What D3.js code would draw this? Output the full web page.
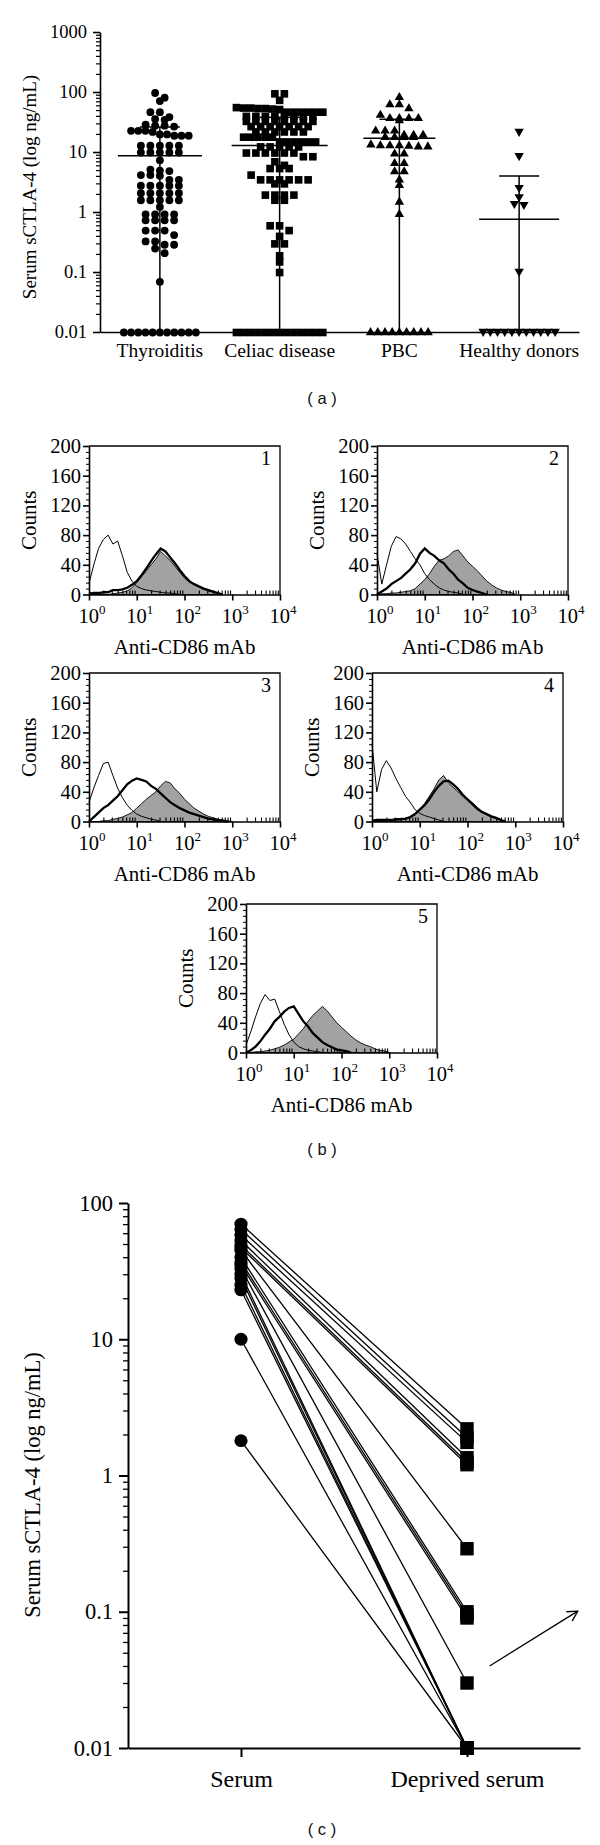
<!DOCTYPE html>
<html><head><meta charset="utf-8">
<script src="https://cdn.jsdelivr.net/npm/d3@7"></script>
<style>body{margin:0;background:#fff}svg{display:block}</style>
</head><body>
<svg id="chart" width="600" height="1845"></svg>
<script>
// ===== Panel (a) data =====
const groupNames = ["Thyroiditis", "Celiac disease", "PBC", "Healthy donors"];
const thyroiditisValues = [98, 82, 72, 47, 47, 39, 35, 36, 29, 28, 28, 27, 23, 23, 22, 23,
  20, 19, 19, 20, 19, 13, 13, 13, 13, 13, 10, 10, 10, 10, 10, 7.4, 5.0, 5.2, 4.9, 4.2, 4.2, 4.1,
  3.5, 3.5, 2.8, 2.8, 2.8, 2.8, 2.8, 2.1, 2.1, 2.1, 2.1, 2.1, 1.6, 1.6, 1.6, 1.6, 1.6, 1.24,
  0.93, 0.93, 0.93, 0.93, 0.74, 0.74, 0.74, 0.74, 0.5, 0.5, 0.5, 0.42, 0.33, 0.33, 0.29, 0.29,
  0.25, 0.21, 0.07, 0.01, 0.01, 0.01, 0.01, 0.01, 0.01, 0.01, 0.01, 0.01, 0.01, 0.01];
const celiacValues = [95, 95, 74, 56, 55, 54, 53, 55, 54, 52, 47, 47, 47, 47, 47, 47,
  40, 40, 40, 40, 40, 40, 40, 40, 33, 33, 33, 33, 33, 33, 33, 33, 27, 27, 27, 27, 27, 27, 27,
  22, 22, 22, 22, 22, 22, 18, 18, 18, 18, 18, 15, 15, 15, 15, 15, 15, 12.4, 12.4, 12.4, 12.4, 12.4,
  9.8, 9.8, 9.8, 9.8, 9.8, 9.8, 8.5, 8.5, 7, 6.1, 5.4, 5.4, 5.4, 4.2, 3.5, 3.5, 3.5, 3.5, 3.5, 3.5,
  3.0, 3.0, 1.95, 1.95, 1.95, 1.95, 1.6, 1.6, 0.6, 0.6, 0.5, 0.4, 0.3, 0.3, 0.19, 0.15, 0.1,
  0.01, 0.01, 0.01, 0.01, 0.01, 0.01, 0.01, 0.01, 0.01, 0.01, 0.01, 0.01, 0.01];
const pbcValues = [83, 63, 63, 54, 42, 37, 37, 37, 37, 34, 23, 23, 23, 19.5, 19.5, 19.5,
  18, 18, 18, 18, 13, 12.5, 13, 13.5, 12.5, 13, 12.8, 9.5, 9.5, 6.6, 6.6, 4.8, 4.8, 3.5, 2.85,
  1.5, 0.93, 0.01, 0.01, 0.01, 0.01, 0.01, 0.01, 0.01, 0.01, 0.01];
const healthyValues = [21.5, 8.5, 2.5, 1.75, 1.3, 1.35, 0.1,
  0.01, 0.01, 0.01, 0.01, 0.01, 0.01, 0.01, 0.01, 0.01, 0.01, 0.01];
const groupMeans = [8.7, 12.8, 17, 0.76];
const groupSDUpper = [26, 38, 35, 4.0];
const panelATicks = [0.01, 0.1, 1, 10, 100, 1000];
const panelATickLabels = ["0.01", "0.1", "1", "10", "100", "1000"];

// ===== Panel (b) data: flow-cytometry histograms (counts on a log10 grid) =====
const logGrid = [0, 0.1, 0.2, 0.3, 0.4, 0.5, 0.6, 0.7, 0.8, 0.9, 1, 1.1, 1.2, 1.3, 1.4, 1.5,
  1.6, 1.7, 1.8, 1.9, 2, 2.1, 2.2, 2.3, 2.4, 2.5, 2.6, 2.7, 2.8, 2.9, 3];
const control1 = [15,40,62,74,80,68,72,52,30,18,11,8,6,5,4,3,2,2,1,0,0,0,0,0,0,0,0,0,0,0,0];
const thick1   = [1,2,2,3,3,6,6,7,9,13,18,26,35,45,54,62,58,50,42,33,25,18,14,11,8,6,4,2,0,0,0];
const filled1  = [0,0,0,0,0,1,2,3,5,9,16,24,32,40,48,58,52,46,38,30,22,17,13,11,7,5,3,1,0,0,0];
const control2 = [55,14,40,65,78,75,68,58,48,40,28,20,14,9,6,4,3,2,0,0,0,0,0,0,0,0,0,0,0,0,0];
const thick2   = [0,4,8,14,18,22,28,34,42,55,62,56,52,46,42,34,28,20,15,9,6,4,2,0,0,0,0,0,0,0,0];
const filled2  = [0,1,1,2,2,3,4,5,8,14,20,28,38,46,48,52,58,60,52,44,38,32,25,18,13,9,6,4,3,0,0];
const control3 = [26,45,62,78,80,62,45,32,22,15,10,7,5,3,2,0,0,0,0,0,0,0,0,0,0,0,0,0,0,0,0];
const thick3   = [0,6,12,18,22,28,34,42,50,55,58,56,54,48,44,38,32,26,22,18,15,12,10,8,6,4,3,2,1,0,0];
const filled3  = [0,0,0,1,1,3,4,6,9,12,18,24,30,35,40,48,54,52,44,38,30,24,18,14,10,7,5,3,2,1,0];
const control4 = [105,40,70,82,72,58,46,34,26,16,11,8,6,4,2,0,0,0,0,0,0,0,0,0,0,0,0,0,0,0,0];
const thick4   = [1,2,2,2,2,3,3,4,6,10,16,22,30,40,48,54,55,50,44,36,30,24,18,13,10,7,5,2,0,0,0];
const filled4  = [0,1,1,1,2,2,3,3,5,9,16,24,34,44,56,62,52,46,40,34,28,22,16,12,9,6,4,2,0,0,0];
const control5 = [10,28,48,66,78,70,72,55,38,24,14,8,5,3,2,1,0,0,0,0,0,0,0,0,0,0,0,0,0,0,0];
const thick5   = [0,3,8,15,24,32,42,48,55,60,62,52,42,35,26,20,14,10,7,4,3,2,0,0,0,0,0,0,0,0,0];
const filled5  = [0,0,1,1,2,3,5,7,10,14,18,25,32,42,50,56,62,56,48,40,34,28,22,17,13,10,8,5,3,2,0];
const histLabels = ["1", "2", "3", "4", "5"];
const countTicks = [0, 40, 80, 120, 160, 200];
const fluorTicks = [1, 10, 100, 1000, 10000];
const fluorTickExps = ["0", "1", "2", "3", "4"];

// ===== Panel (c) data =====
const pairedCategories = ["Serum", "Deprived serum"];
const serumValues    = [70, 64, 58, 53, 49, 47, 45, 40, 37, 35, 33, 30, 28, 25, 23, 10, 1.8];
const deprivedValues = [2.2, 1.9, 1.75, 1.35, 1.25, 1.2, 0.29, 0.1, 0.095, 0.09, 0.03,
  0.01, 0.01, 0.01, 0.01, 0.01, 0.01];
const panelCTicks = [0.01, 0.1, 1, 10, 100];
const panelCTickLabels = ["0.01", "0.1", "1", "10", "100"];

// ===== Drawing =====
const svg = d3.select("#chart");
const serif = "'Liberation Serif','Times New Roman',serif";
const sans = "'Liberation Sans',Arial,sans-serif";

function styleAxis(g, fs, sw) {
  g.attr("font-family", serif).attr("font-size", fs);
  g.selectAll("text").attr("fill", "#000");
  g.selectAll("line,path").attr("stroke", "#000").attr("stroke-width", sw);
}
function isMajor(t, majors) { return majors.some(m => Math.abs(m - t) / m < 1e-9); }

// ---------- Panel (a) ----------
const aX = d3.scaleBand().domain(groupNames).range([100, 579]);
const aY = d3.scaleLog().domain([0.01, 1000]).range([332, 32]);
const gA = svg.append("g");
const aMinor = aY.ticks().filter(t => !isMajor(t, panelATicks));
gA.append("g").attr("transform", "translate(100,0)")
  .call(d3.axisLeft(aY).tickValues(aMinor).tickSize(4).tickSizeOuter(0).tickFormat(""))
  .call(g => { g.select(".domain").remove(); styleAxis(g, 18.5, 1.2); });
gA.append("g").attr("transform", "translate(100,0)")
  .call(d3.axisLeft(aY).tickValues(panelATicks).tickSize(7).tickSizeOuter(0).tickPadding(6)
    .tickFormat((d, i) => panelATickLabels[i]))
  .call(g => styleAxis(g, 18.5, 1.6));
gA.append("g").attr("transform", "translate(0,332)")
  .call(d3.axisBottom(aX).tickSize(0).tickSizeOuter(0))
  .call(g => { styleAxis(g, 19.5, 1.6); g.selectAll("text").attr("y", 25).attr("dy", 0); });
gA.append("text").attr("transform", "translate(29,187) rotate(-90)")
  .attr("text-anchor", "middle").attr("dy", "0.35em")
  .attr("font-family", serif).attr("font-size", 19).text("Serum sCTLA-4 (log ng/mL)");

function swarm(values, cx, yScale) {
  const sorted = values.slice().sort((a, b) => b - a);
  const rows = [];
  sorted.forEach(v => {
    const y = yScale(v);
    const last = rows[rows.length - 1];
    if (last && y - last.y0 < 5) last.items.push({ v, y });
    else rows.push({ y0: y, items: [{ v, y }] });
  });
  const out = [];
  rows.forEach(r => {
    const n = r.items.length, s = n > 8 ? 7.2 : 9.5;
    r.items.forEach((it, i) => out.push({ v: it.v, x: cx + (i - (n - 1) / 2) * s, y: it.y }));
  });
  return out;
}
const groupValues = [thyroiditisValues, celiacValues, pbcValues, healthyValues];
const groupSymbols = [
  { type: d3.symbolCircle, size: 48, rot: 0 },
  { type: d3.symbolSquare, size: 58, rot: 0 },
  { type: d3.symbolTriangle, size: 38, rot: 0 },
  { type: d3.symbolTriangle, size: 38, rot: 180 }];
const meanHalf = [42, 48, 36, 40];
groupNames.forEach((name, gi) => {
  const cx = aX(name) + aX.bandwidth() / 2;
  gA.append("line").attr("x1", cx).attr("x2", cx).attr("y1", aY(groupSDUpper[gi])).attr("y2", aY(0.01))
    .attr("stroke", "#000").attr("stroke-width", 1.5);
  gA.append("line").attr("x1", cx - 20).attr("x2", cx + 20).attr("y1", aY(groupSDUpper[gi])).attr("y2", aY(groupSDUpper[gi]))
    .attr("stroke", "#000").attr("stroke-width", 1.5);
  gA.append("line").attr("x1", cx - meanHalf[gi]).attr("x2", cx + meanHalf[gi]).attr("y1", aY(groupMeans[gi])).attr("y2", aY(groupMeans[gi]))
    .attr("stroke", "#000").attr("stroke-width", 1.5);
  const sym = groupSymbols[gi];
  const path = d3.symbol().type(sym.type).size(sym.size)();
  gA.selectAll(null).data(swarm(groupValues[gi], cx, aY)).join("path")
    .attr("d", path).attr("fill", "#000")
    .attr("transform", d => `translate(${d.x},${d.y + (sym.rot ? -0.5 : 0.5)}) rotate(${sym.rot})`);
});
svg.append("text").attr("x", 322).attr("y", 404).attr("text-anchor", "middle")
  .attr("font-family", sans).attr("font-size", 16.5).attr("fill", "#111").attr("xml:space", "preserve").text("( a )");

// ---------- Panel (b) ----------
const histLayout = [{ x: 89, y: 446 }, { x: 377, y: 446 }, { x: 89, y: 673 }, { x: 372, y: 673 }, { x: 246, y: 904 }];
const histData = [[control1, thick1, filled1], [control2, thick2, filled2], [control3, thick3, filled3],
  [control4, thick4, filled4], [control5, thick5, filled5]];
const PW = 191, PH = 148.5;
function trimSeries(arr) {
  let last = arr.length - 1;
  while (last > 0 && arr[last] === 0 && arr[last - 1] === 0) last--;
  return logGrid.slice(0, last + 1).map((g, i) => [g, arr[i]]);
}
histData.forEach((curves, pi) => {
  const L = histLayout[pi];
  const xs = d3.scaleLog().domain([1, 10000]).range([L.x, L.x + PW]);
  const ys = d3.scaleLinear().domain([0, 200]).range([L.y + PH, L.y]);
  const g = svg.append("g");
  const [ctrl, thick, filled] = curves;
  const area = d3.area().x(d => xs(Math.pow(10, d[0]))).y0(ys(0)).y1(d => ys(d[1]));
  const line = d3.line().x(d => xs(Math.pow(10, d[0]))).y(d => ys(d[1]));
  g.append("path").attr("d", area(trimSeries(filled))).attr("fill", "#a2a2a2").attr("stroke", "#000").attr("stroke-width", 0.9);
  g.append("path").attr("d", line(trimSeries(ctrl))).attr("fill", "none").attr("stroke", "#000").attr("stroke-width", 1);
  g.append("path").attr("d", line(trimSeries(thick))).attr("fill", "none").attr("stroke", "#000").attr("stroke-width", 2.3);
  g.append("path").attr("d", `M${L.x},${L.y}H${L.x + PW}V${L.y + PH}`).attr("fill", "none").attr("stroke", "#000").attr("stroke-width", 1.3);
  const minorCounts = d3.range(0, 201, 8).filter(c => !countTicks.includes(c));
  g.append("g").attr("transform", `translate(${L.x},0)`)
    .call(d3.axisLeft(ys).tickValues(minorCounts).tickSize(3).tickSizeOuter(0).tickFormat(""))
    .call(a => { a.select(".domain").remove(); styleAxis(a, 20, 1); });
  g.append("g").attr("transform", `translate(${L.x},0)`)
    .call(d3.axisLeft(ys).tickValues(countTicks).tickSize(6).tickSizeOuter(0).tickPadding(2))
    .call(a => styleAxis(a, 20.5, 1.6));
  const minorX = xs.ticks().filter(t => !isMajor(t, fluorTicks));
  g.append("g").attr("transform", `translate(0,${L.y + PH})`)
    .call(d3.axisTop(xs).tickValues(minorX).tickSize(4).tickSizeOuter(0).tickFormat(""))
    .call(a => { a.select(".domain").remove(); styleAxis(a, 20, 1.1); });
  g.append("g").attr("transform", `translate(0,${L.y + PH})`)
    .call(d3.axisBottom(xs).tickValues(fluorTicks).tickSize(6).tickSizeOuter(0).tickFormat(""))
    .call(a => styleAxis(a, 20, 1.6));
  fluorTicks.forEach((t, i) => {
    const tx = g.append("text").attr("x", xs(t) + 3).attr("y", L.y + PH + 28).attr("text-anchor", "middle")
      .attr("font-family", serif).attr("font-size", 20.5).attr("fill", "#000");
    tx.append("tspan").text("10");
    tx.append("tspan").attr("dy", -9).attr("font-size", 13).text(fluorTickExps[i]);
  });
  g.append("text").attr("x", L.x + PW / 2).attr("y", L.y + PH + 59).attr("text-anchor", "middle")
    .attr("font-family", serif).attr("font-size", 21).attr("fill", "#000").text("Anti-CD86 mAb");
  g.append("text").attr("transform", `translate(${L.x - 60},${L.y + PH / 2}) rotate(-90)`)
    .attr("text-anchor", "middle").attr("dy", "0.35em")
    .attr("font-family", serif).attr("font-size", 21).attr("fill", "#000").text("Counts");
  g.append("text").attr("x", L.x + PW - 14).attr("y", L.y + 19).attr("text-anchor", "middle")
    .attr("font-family", serif).attr("font-size", 20).attr("fill", "#000").text(histLabels[pi]);
});
svg.append("text").attr("x", 322).attr("y", 1155).attr("text-anchor", "middle")
  .attr("font-family", sans).attr("font-size", 16.5).attr("fill", "#111").attr("xml:space", "preserve").text("( b )");

// ---------- Panel (c) ----------
const cX = d3.scaleLinear().domain([-0.5, 1.5]).range([128, 580]);
const cY = d3.scaleLog().domain([0.01, 100]).range([1748, 1203]);
const gC = svg.append("g");
const cMinor = cY.ticks().filter(t => !isMajor(t, panelCTicks));
gC.append("g").attr("transform", "translate(128,0)")
  .call(d3.axisLeft(cY).tickValues(cMinor).tickSize(5).tickSizeOuter(0).tickFormat(""))
  .call(g => { g.select(".domain").remove(); styleAxis(g, 22.5, 1.3); });
gC.append("g").attr("transform", "translate(128,0)")
  .call(d3.axisLeft(cY).tickValues(panelCTicks).tickSize(9).tickSizeOuter(0).tickPadding(6)
    .tickFormat((d, i) => panelCTickLabels[i]))
  .call(g => styleAxis(g, 22.5, 2));
gC.append("g").attr("transform", "translate(0,1748)")
  .call(d3.axisBottom(cX).tickValues([0, 1]).tickSize(9).tickSizeOuter(0).tickFormat((d, i) => pairedCategories[i]))
  .call(g => { styleAxis(g, 24, 2); g.selectAll("text").attr("y", 39).attr("dy", 0); });
gC.append("text").attr("transform", "translate(32,1485) rotate(-90)")
  .attr("text-anchor", "middle").attr("dy", "0.35em")
  .attr("font-family", serif).attr("font-size", 22.5).text("Serum sCTLA-4 (log ng/mL)");
const pairs = serumValues.map((s, i) => ({ s, d: deprivedValues[i] }));
gC.selectAll(null).data(pairs).join("line")
  .attr("x1", cX(0)).attr("x2", cX(1)).attr("y1", d => cY(d.s)).attr("y2", d => cY(d.d))
  .attr("stroke", "#000").attr("stroke-width", 1.3);
gC.selectAll(null).data(pairs).join("ellipse")
  .attr("cx", cX(0)).attr("cy", d => cY(d.s)).attr("rx", 6.6).attr("ry", 6.4).attr("fill", "#000");
gC.selectAll(null).data(pairs).join("rect")
  .attr("x", cX(1) - 6.7).attr("y", d => cY(d.d) - 6.7).attr("width", 13.4).attr("height", 13.4).attr("fill", "#000");
const arrowFrom = [1.10, 0.04], arrowTo = [1.49, 0.101];
const defs = svg.append("defs");
defs.append("marker").attr("id", "arr").attr("viewBox", "-12 -7 14 14").attr("refX", 0).attr("refY", 0)
  .attr("markerWidth", 14).attr("markerHeight", 14).attr("markerUnits", "userSpaceOnUse").attr("orient", "auto")
  .append("path").attr("d", "M-10,-5.5L0,0L-10,5.5").attr("fill", "none").attr("stroke", "#000").attr("stroke-width", 1.3);
gC.append("line").attr("x1", cX(arrowFrom[0])).attr("y1", cY(arrowFrom[1]))
  .attr("x2", cX(arrowTo[0])).attr("y2", cY(arrowTo[1]))
  .attr("stroke", "#000").attr("stroke-width", 1.3).attr("marker-end", "url(#arr)");
svg.append("text").attr("x", 322).attr("y", 1835).attr("text-anchor", "middle")
  .attr("font-family", sans).attr("font-size", 16.5).attr("fill", "#111").attr("xml:space", "preserve").text("( c )");
</script>
</body></html>
